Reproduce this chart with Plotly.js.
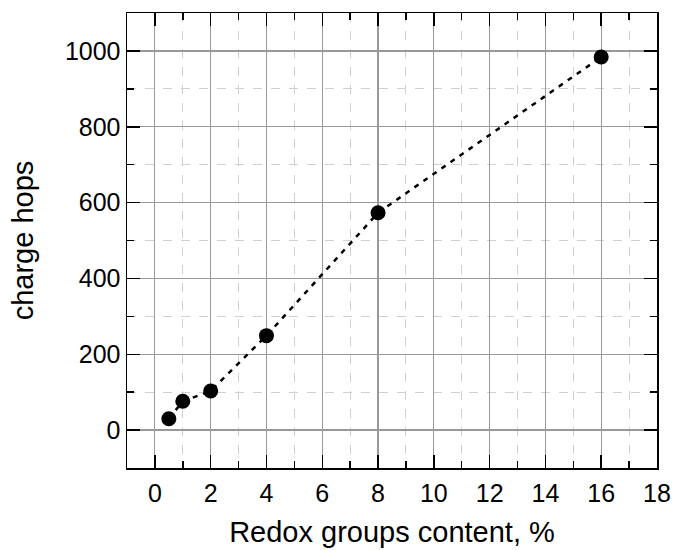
<!DOCTYPE html>
<html>
<head>
<meta charset="utf-8">
<script src="https://cdn.plot.ly/plotly-3.0.1.min.js"></script>
<style>html,body{margin:0;padding:0;background:#fff;}#chart{width:673px;height:550px;}</style>
</head>
<body>
<div id="chart"></div>
<script>
const redoxContent = [0.5, 1, 2, 4, 8, 16];
const chargeHops = [30, 76, 103, 249, 573, 984];
const xTickVals = [0, 2, 4, 6, 8, 10, 12, 14, 16, 18];
const yTickVals = [0, 200, 400, 600, 800, 1000];

const font = 'Liberation Sans, Arial, sans-serif';

const trace = {
  x: redoxContent,
  y: chargeHops,
  type: 'scatter',
  mode: 'lines+markers',
  line: {color: '#000', width: 2.5, dash: '5px,6px'},
  marker: {color: '#000', size: 15},
  showlegend: false
};

const axisCommon = {
  showline: true,
  linecolor: '#000',
  linewidth: 1.5,
  mirror: 'ticks',
  ticks: 'inside',
  ticklen: 13,
  tickwidth: 1.5,
  tickcolor: '#000',
  showgrid: true,
  gridcolor: '#999',
  gridwidth: 1.2,
  zeroline: false,
  tickfont: {family: font, size: 25, color: '#000'},
  minor: {
    ticks: 'inside',
    ticklen: 7,
    tickwidth: 1.5,
    tickcolor: '#000',
    showgrid: true,
    gridcolor: '#d0d0d0',
    gridwidth: 1,
    griddash: 'dash'
  }
};

const layout = {
  width: 673,
  height: 550,
  margin: {l: 127, r: 16, t: 13, b: 82},
  paper_bgcolor: '#fff',
  plot_bgcolor: '#fff',
  xaxis: Object.assign({}, axisCommon, {
    range: [-1, 18],
    tickmode: 'array',
    tickvals: xTickVals,
    ticktext: xTickVals.map(String),
    ticklabelstandoff: 2,
    minor: Object.assign({}, axisCommon.minor, {dtick: 1, tick0: 0}),
    title: {text: 'Redox groups content, %', font: {family: font, size: 29, color: '#000'}, standoff: 16}
  }),
  yaxis: Object.assign({}, axisCommon, {
    range: [-100, 1100],
    tickmode: 'array',
    tickvals: yTickVals,
    ticktext: yTickVals.map(String),
    minor: Object.assign({}, axisCommon.minor, {dtick: 100, tick0: 0}),
    title: {text: 'charge hops', font: {family: font, size: 29, color: '#000'}, standoff: 22}
  })
};

Plotly.newPlot('chart', [trace], layout, {displayModeBar: false, staticPlot: true});
</script>
</body>
</html>
